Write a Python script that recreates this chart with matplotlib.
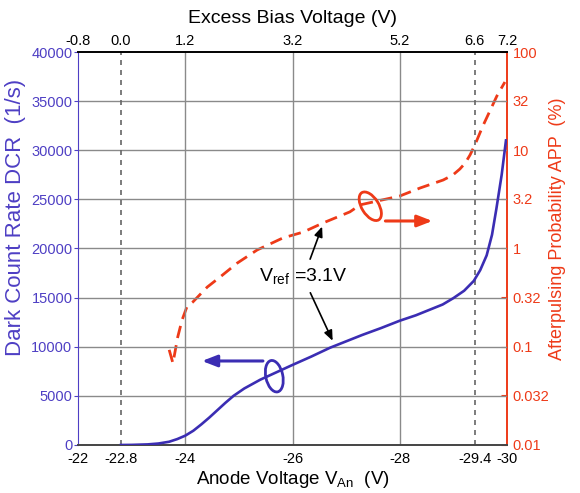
import matplotlib
matplotlib.use('Agg')
import matplotlib.pyplot as plt
from matplotlib.patches import Ellipse
from matplotlib.transforms import ScaledTranslation

plt.rcParams['font.family'] = ['Liberation Sans', 'DejaVu Sans']

# data
anode_v = [-22.8, -23.0, -23.3, -23.5, -23.7, -23.85, -24.0, -24.15, -24.3, -24.45,
           -24.6, -24.75, -24.9, -25.1, -25.4, -25.7, -26.0, -26.35, -26.7, -27.0,
           -27.3, -27.65, -28.0, -28.3, -28.55, -28.8, -29.0, -29.2, -29.38, -29.5,
           -29.62, -29.72, -29.8, -29.9, -29.98]
dcr = [0, 10, 60, 150, 330, 600, 950, 1450, 2100, 2800,
       3550, 4300, 5000, 5750, 6650, 7400, 8150, 9000, 9900, 10550,
       11200, 11900, 12650, 13200, 13750, 14300, 14950, 15700, 16700, 17800,
       19300, 21400, 24000, 27500, 31000]

app_v = [-23.70, -23.77, -23.86, -23.94, -24.03, -24.14, -24.41, -24.65, -24.97, -25.34,
         -25.82, -26.20, -26.57, -27.07, -27.26, -28.00, -28.38, -28.81, -28.99,
         -29.12, -29.22, -29.31, -29.40, -29.55, -29.68, -29.81, -29.96]
app = [0.093, 0.068, 0.126, 0.187, 0.254, 0.285, 0.405, 0.513, 0.711, 0.966,
       1.28, 1.47, 1.82, 2.36, 2.78, 3.42, 4.13, 4.98, 5.60,
       6.44, 7.41, 8.95, 11.3, 17.7, 25.1, 35.6, 49.5]

bottom_ticks = [-22, -22.8, -24, -26, -28, -29.4, -30]
bottom_labels = ['-22', '-22.8', '-24', '-26', '-28', '-29.4', '-30']
top_ticks = [-0.8, 0.0, 1.2, 3.2, 5.2, 6.6, 7.2]
top_labels = ['-0.8', '0.0', '1.2', '3.2', '5.2', '6.6', '7.2']
dcr_ticks = [0, 5000, 10000, 15000, 20000, 25000, 30000, 35000, 40000]
app_ticks = [0.01, 0.032, 0.1, 0.32, 1, 3.2, 10, 32, 100]
app_labels = ['0.01', '0.032', '0.1', '0.32', '1', '3.2', '10', '32', '100']
V_BREAKDOWN = 22.8

BLUE = '#3b2db3'
BLUE_TXT = '#4e3fc4'
RED = '#ee3a18'
GRID = '#8a8a8a'

fig = plt.figure(figsize=(5.8, 4.93), dpi=100)
ax = fig.add_axes([0.1345, 0.0974, 0.7397, 0.7971])
ax.set_xlim(-22, -30)
ax.set_ylim(0, 40000)

# grid
for y in dcr_ticks[1:-1]:
    ax.axhline(y, color=GRID, lw=1, zorder=0)
for x in [-24, -26, -28]:
    ax.axvline(x, color=GRID, lw=1, zorder=0)
for x in [-22.8, -29.4]:
    ax.axvline(x, color='#666666', lw=1.2, ls=(0, (3, 3)), zorder=0)

ax.plot(anode_v, dcr, color=BLUE, lw=1.9, zorder=3, solid_joinstyle='round')

ax.set_xticks(bottom_ticks)
ax.set_xticklabels(bottom_labels)
ax.set_yticks(dcr_ticks)
ax.tick_params(axis='x', length=0, labelsize=10.5, pad=5)
ax.tick_params(axis='y', length=3, color=BLUE_TXT, labelcolor=BLUE_TXT, labelsize=10.5, pad=1)
ax.spines['left'].set_color(BLUE_TXT)
ax.spines['bottom'].set_color('#444444')
ax.spines['bottom'].set_linewidth(1.4)
ax.spines['top'].set_color('black')
ax.spines['top'].set_linewidth(1.4)
ax.spines['right'].set_visible(False)

ax.set_xlabel('Anode Voltage $\\mathregular{V_{An}}$  (V)', fontsize=13.5, labelpad=2)
ax.set_ylabel('Dark Count Rate DCR  (1/s)', fontsize=16, color=BLUE_TXT)
ax.yaxis.set_label_coords(-0.121, 0.579)

# top axis: excess bias
top = ax.secondary_xaxis('top', functions=(lambda v: -v - V_BREAKDOWN, lambda e: -e - V_BREAKDOWN))
top.set_xticks(top_ticks)
top.set_xticklabels(top_labels)
top.tick_params(length=0, labelsize=10.5, pad=3)
top.spines['top'].set_visible(False)
top.set_xlabel('Excess Bias Voltage (V)', fontsize=14, labelpad=8)

# right axis: afterpulsing probability
ax2 = ax.twinx()
ax2.set_yscale('log')
ax2.set_ylim(0.01, 100)
ax2.plot(app_v, app, color=RED, lw=2, ls=(0, (4.5, 2.6)), zorder=3)
ax2.set_yticks(app_ticks)
ax2.set_yticklabels(app_labels)
ax2.minorticks_off()
ax2.tick_params(axis='y', direction='in', length=4, color=RED, labelcolor=RED, labelsize=10.5, pad=4)
ax2.spines['right'].set_color(RED)
ax2.spines['right'].set_linewidth(1.4)
for s in ['left', 'top', 'bottom']:
    ax2.spines[s].set_visible(False)
ax2.set_ylabel('Afterpulsing Probability APP  (%)', fontsize=13, color=RED)
ax2.yaxis.set_label_coords(1.098, 0.55)


def loop(x, y, w_px, h_px, angle, color):
    # ellipse sized in pixels, anchored at a data point
    tr = fig.dpi_scale_trans + ScaledTranslation(x, y, ax.transData)
    ax.add_patch(Ellipse((0, 0), w_px / 100, h_px / 100, angle=angle, fill=False,
                         ec=color, lw=2, transform=tr, zorder=4))


# annotations
ax.annotate('', xy=(-24.26, 8550), xytext=(-25.5, 8550),
            arrowprops=dict(arrowstyle='-|>,head_length=0.9,head_width=0.35', color=BLUE, lw=2.2),
            zorder=4)
loop(-25.66, 7000, 17, 32, 12, BLUE)

ax.annotate('', xy=(-28.66, 22800), xytext=(-27.68, 22800),
            arrowprops=dict(arrowstyle='-|>,head_length=0.9,head_width=0.35', color=RED, lw=2.2),
            zorder=4)
loop(-27.45, 24300, 17, 32, 32, RED)

ax.text(-26.2, 17150, '$\\mathregular{V_{ref}}$ =3.1V', fontsize=14, ha='center', va='center', zorder=5)
ax.annotate('', xy=(-26.57, 22500), xytext=(-26.31, 18650),
            arrowprops=dict(arrowstyle='-|>,head_length=0.6,head_width=0.25', color='black', lw=1.2))
ax.annotate('', xy=(-26.77, 10350), xytext=(-26.31, 15750),
            arrowprops=dict(arrowstyle='-|>,head_length=0.6,head_width=0.25', color='black', lw=1.2))

# keep the annotations above the right-hand axes
ax.set_zorder(ax2.get_zorder() + 1)
ax.patch.set_visible(False)

fig.savefig('out.png', dpi=100)
